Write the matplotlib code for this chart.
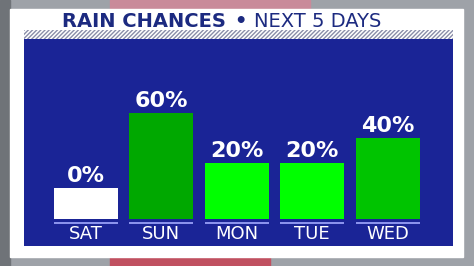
import matplotlib
matplotlib.use("Agg")
import matplotlib.pyplot as plt
from matplotlib.patches import Rectangle

days = ["SAT", "SUN", "MON", "TUE", "WED"]
chances = [0, 60, 20, 20, 40]
bar_colors = ["#ffffff", "#00a800", "#00ff00", "#00ff00", "#00c400"]

W, H = 474, 266
fig = plt.figure(figsize=(W / 100, H / 100), dpi=100)
fig.patch.set_facecolor("#9ea2a8")

def px(x0, y0, w, h):
    # pixel box (top-left origin) -> figure fraction
    return (x0 / W, (H - y0 - h) / H, w / W, h / H)

# blurry backdrop hints
x, y, w, h = px(0, 0, 10, 266)
fig.patches.append(Rectangle((x, y), w, h, transform=fig.transFigure, color="#6f7378", zorder=0))
x, y, w, h = px(110, 0, 200, 9)
fig.patches.append(Rectangle((x, y), w, h, transform=fig.transFigure, color="#c98a9a", zorder=0))
x, y, w, h = px(110, 257, 160, 9)
fig.patches.append(Rectangle((x, y), w, h, transform=fig.transFigure, color="#c05060", zorder=0))

# white card
x, y, w, h = px(10, 9, 453, 248)
fig.patches.append(Rectangle((x, y), w, h, transform=fig.transFigure, color="white", zorder=1))

# hatched strip under title
x, y, w, h = px(24, 30, 429, 9)
fig.patches.append(Rectangle((x, y), w, h, transform=fig.transFigure, facecolor="white",
                             edgecolor="#8a8ea8", hatch="////////", linewidth=0, zorder=2))

# title
navy = "#1c2a80"
ty = (H - 27) / H
fig.text(226 / W, ty, "RAIN CHANCES", ha="right", va="baseline", fontsize=14,
         fontweight="bold", color=navy, zorder=3)
fig.text(240 / W, ty, "\u2022", ha="center", va="baseline", fontsize=14,
         fontweight="bold", color=navy, zorder=3)
fig.text(254 / W, ty, "NEXT 5 DAYS", ha="left", va="baseline", fontsize=14,
         color=navy, zorder=3)

# blue chart panel
ax = fig.add_axes(px(24, 39, 429, 207))
ax.set_zorder(5)
ax.set_facecolor("#1a2496")
for s in ax.spines.values():
    s.set_visible(False)
ax.set_xticks([])
ax.set_yticks([])

base = -25
pos = range(len(days))
bw = 0.85
ax.bar(pos, [c - base for c in chances], bottom=base, width=bw, color=bar_colors, linewidth=0)
ax.hlines([base - 3.4] * len(days), [p - bw / 2 for p in pos], [p + bw / 2 for p in pos],
          color="#8f97f0", linewidth=1.4)
for p, d, c in zip(pos, days, chances):
    ax.text(p, -37, d, ha="center", va="center", fontsize=13, color="white")
    ax.annotate(f"{c}%", (p, c), xytext=(0, 4), textcoords="offset points",
                ha="center", va="baseline", fontsize=16, fontweight="bold", color="white")

ax.set_xlim(-0.822, 4.867)
ax.set_ylim(-46.6, 119)

fig.savefig("out.png", dpi=100)
